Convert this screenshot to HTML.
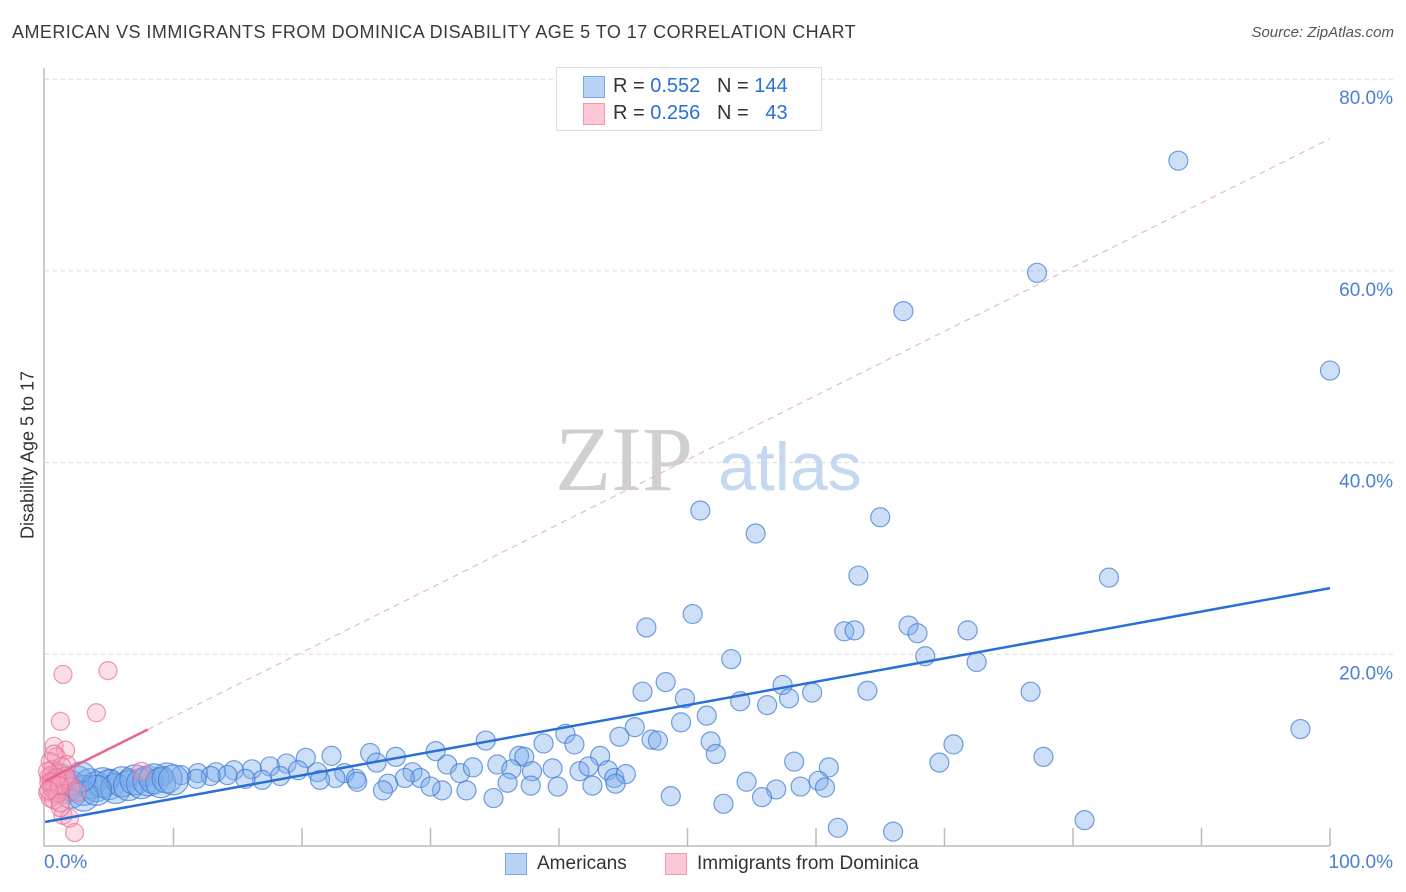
<!DOCTYPE html>
<html><head><meta charset="utf-8"><style>
body{margin:0;background:#fff;font-family:"Liberation Sans",sans-serif}
#wrap{position:relative;width:1406px;height:892px;overflow:hidden}
.t{position:absolute;white-space:nowrap}
</style></head><body>
<div id="wrap">
<div class="t" style="left:12px;top:22px;font-size:18px;color:#3a3a3a;letter-spacing:0.45px">AMERICAN VS IMMIGRANTS FROM DOMINICA DISABILITY AGE 5 TO 17 CORRELATION CHART</div>
<div class="t" style="right:12px;top:24px;font-size:15px;color:#555;font-style:italic">Source: ZipAtlas.com</div>
<svg id="svg" width="1406" height="892" style="position:absolute;left:0;top:0"></svg>
</div>
<script>
const blueX=[88.2,77.2,66.8,100,51.0,55.3,65.0,63.3,82.8,46.8,50.4,62.2,63.0,67.2,67.9,71.8,53.4,68.5,72.5,48.3,46.5,49.8,57.4,59.7,64.0,76.7,54.1,56.2,57.9,51.5,49.5,45.9,97.7,44.7,40.5,34.3,47.2,47.7,51.8,70.7,38.8,41.2,30.4,25.3,22.3,20.3,43.2,52.2,36.9,37.3,77.7,27.3,69.6,58.3,61.0,18.8,17.5,16.1,14.7,13.3,11.9,10.6,9.2,7.9,6.5,5.1,
25.8,23.3,24.2,28.6,29.2,31.3,32.3,33.3,35.2,36.3,37.9,39.5,41.6,42.3,43.8,44.3,45.2,22.6,21.2,19.7,18.3,16.9,15.6,14.2,12.9,11.8,30.9,32.8,34.9,36.0,37.8,39.9,42.6,44.4,30.0,28.0,26.7,24.3,21.4,26.3,48.7,54.6,56.9,55.8,52.8,58.8,60.2,60.7,61.7,66.0,80.9,
1.0,1.5,2.0,2.5,3.0,3.5,4.0,4.5,5.0,5.5,6.0,6.5,7.0,7.5,8.0,8.5,9.0,9.5,10.0,2.0,3.0,4.0,1.2,2.8];
const blueY=[71.5,59.8,55.8,49.6,35.0,32.6,34.3,28.2,28.0,22.8,24.2,22.4,22.5,23.0,22.2,22.5,19.5,19.8,19.2,17.1,16.1,15.4,16.8,16.0,16.2,16.1,15.1,14.7,15.4,13.6,12.9,12.4,12.2,11.4,11.7,11.0,11.1,11.0,10.9,10.6,10.7,10.6,9.9,9.7,9.4,9.2,9.4,9.6,9.4,9.3,9.3,9.3,8.7,8.8,8.2,8.6,8.3,8.0,7.9,7.7,7.6,7.4,7.3,7.2,7.1,7.0,
8.7,7.6,7.0,7.7,7.1,8.5,7.6,8.2,8.5,8.0,7.8,8.1,7.8,8.3,7.9,7.1,7.5,7.1,7.7,7.9,7.3,6.9,7.0,7.4,7.3,7.0,5.8,5.8,5.0,6.6,6.3,6.2,6.3,6.5,6.2,7.1,6.5,6.7,6.9,5.8,5.2,6.7,5.9,5.1,4.4,6.2,6.8,6.1,1.9,1.5,2.7,
6.5,6.0,6.3,6.8,5.8,6.5,6.2,6.6,6.4,6.0,6.7,6.3,6.9,6.5,6.8,7.0,6.6,7.1,6.9,5.5,5.2,5.8,7.0,7.2];
const pinkX=[1.4,4.9,1.2,4.0,0.7,1.6,0.9,1.7,0.4,0.6,1.0,0.3,0.8,1.3,0.5,1.1,0.2,0.9,7.5,1.4,1.9,2.3,0.7,1.2,0.5,1.5,0.3,0.8,1.8,0.6,1.0,0.4,2.0,0.7,1.3,0.2,1.6,0.9,0.5,1.1,0.3,2.5,1.2];
const pinkY=[17.9,18.3,13.0,13.9,10.4,10.0,9.3,8.5,8.8,8.0,7.6,7.2,6.8,6.5,6.2,6.0,5.6,5.3,7.8,3.2,2.9,1.4,4.8,4.0,7.4,7.0,6.6,6.4,6.9,5.9,5.5,5.0,6.2,9.6,8.3,7.8,7.3,7.1,6.7,6.3,5.8,5.6,4.5];
const yTicks=[20,40,60,80];
const yTickLabels=["20.0%","40.0%","60.0%","80.0%"];
const blueLine=[2.5,0.244];
const pinkLine=[6.8,0.67];
const NS="http://www.w3.org/2000/svg";
const svg=document.getElementById('svg');
const X=v=>45+v*12.85, Y=v=>846-v*9.585;
function el(t,a){const e=document.createElementNS(NS,t);for(const k in a)e.setAttribute(k,a[k]);svg.appendChild(e);return e;}
yTicks.forEach((v,i)=>{
 const g=el('line',{x1:45,x2:1393,y1:Y(v),y2:Y(v),stroke:'#dcdcdc','stroke-dasharray':'4,4'});
 
 
 const t=el('text',{x:1393,y:Y(v)+25,'text-anchor':'end','font-size':19,fill:'#4a7fd4','font-family':'Liberation Sans'});
 t.textContent=yTickLabels[i];
 
 
});
const ax=el('path',{d:'M44 68 V846 H1330',stroke:'#bbb',fill:'none','stroke-width':1.5});


for(let i=1;i<=10;i++){const k=el('line',{x1:X(i*10),x2:X(i*10),y1:828,y2:846,stroke:'#bbb','stroke-width':1.5});
 
 }
const w=el('text',{x:555,y:490,'font-size':92,fill:'#d0d0d0','font-family':'Liberation Serif'});w.textContent='ZIP';


const w2=el('text',{x:718,y:490,'font-size':68,fill:'#c5d8f0','font-family':'Liberation Sans'});w2.textContent='atlas';


blueX.forEach((x,i)=>{const r=i>=blueX.length-24?15:9.5;const c=el('circle',{cx:X(x),cy:Y(blueY[i]),r:r,fill:'rgba(120,170,235,0.38)',stroke:'rgba(60,120,210,0.7)','stroke-width':1.2});
 
 });
pinkX.forEach((x,i)=>{const c=el('circle',{cx:X(x),cy:Y(pinkY[i]),r:9,fill:'rgba(245,160,185,0.35)',stroke:'rgba(230,110,150,0.7)','stroke-width':1.2});
 
 });
const bl=el('line',{x1:X(0),y1:Y(blueLine[0]),x2:X(100),y2:Y(blueLine[0]+100*blueLine[1]),stroke:'#2a6fd6','stroke-width':2.5});


const pd=el('line',{x1:X(8),y1:Y(pinkLine[0]+8*pinkLine[1]),x2:X(100),y2:Y(pinkLine[0]+100*pinkLine[1]),stroke:'#eeb0c3','stroke-width':1.1,'stroke-dasharray':'6,5'});


const pl=el('line',{x1:X(0),y1:Y(pinkLine[0]),x2:X(8),y2:Y(pinkLine[0]+8*pinkLine[1]),stroke:'#e8648f','stroke-width':2.5});


</script>
<div class="t" style="left:18px;top:455px;transform:translate(-50%,-50%) rotate(-90deg);transform-origin:center;margin-left:10px;font-size:18px;color:#333">Disability Age 5 to 17</div>
<div class="t" style="left:44px;top:852px;font-size:19px;color:#4a7fd4">0.0%</div>
<div class="t" style="right:13px;top:852px;font-size:19px;color:#4a7fd4">100.0%</div>
<div style="position:absolute;left:556px;top:67px;width:264px;height:62px;border:1px solid #ddd;background:#fff;font-size:20px;color:#333">
 <div class="t" style="left:26px;top:8px;width:20px;height:20px;background:#b8d3f5;border:1px solid #7aa8e6"></div>
 <div class="t" style="left:56px;top:7px">R = <span style="color:#2a6fd6">0.552</span>&nbsp;&nbsp;&nbsp;N = <span style="color:#2a6fd6">144</span></div>
 <div class="t" style="left:26px;top:35px;width:20px;height:20px;background:#fcc8d6;border:1px solid #ee9ab4"></div>
 <div class="t" style="left:56px;top:34px">R = <span style="color:#2a6fd6">0.256</span>&nbsp;&nbsp;&nbsp;N = &nbsp;&nbsp;<span style="color:#2a6fd6">43</span></div>
</div>
<div class="t" style="left:505px;top:853px;width:20px;height:20px;background:#b8d3f5;border:1px solid #7aa8e6"></div>
<div class="t" style="left:537px;top:853px;font-size:19px;color:#333">Americans</div>
<div class="t" style="left:665px;top:853px;width:20px;height:20px;background:#fcc8d6;border:1px solid #ee9ab4"></div>
<div class="t" style="left:697px;top:853px;font-size:19px;color:#333">Immigrants from Dominica</div>
</body></html>
